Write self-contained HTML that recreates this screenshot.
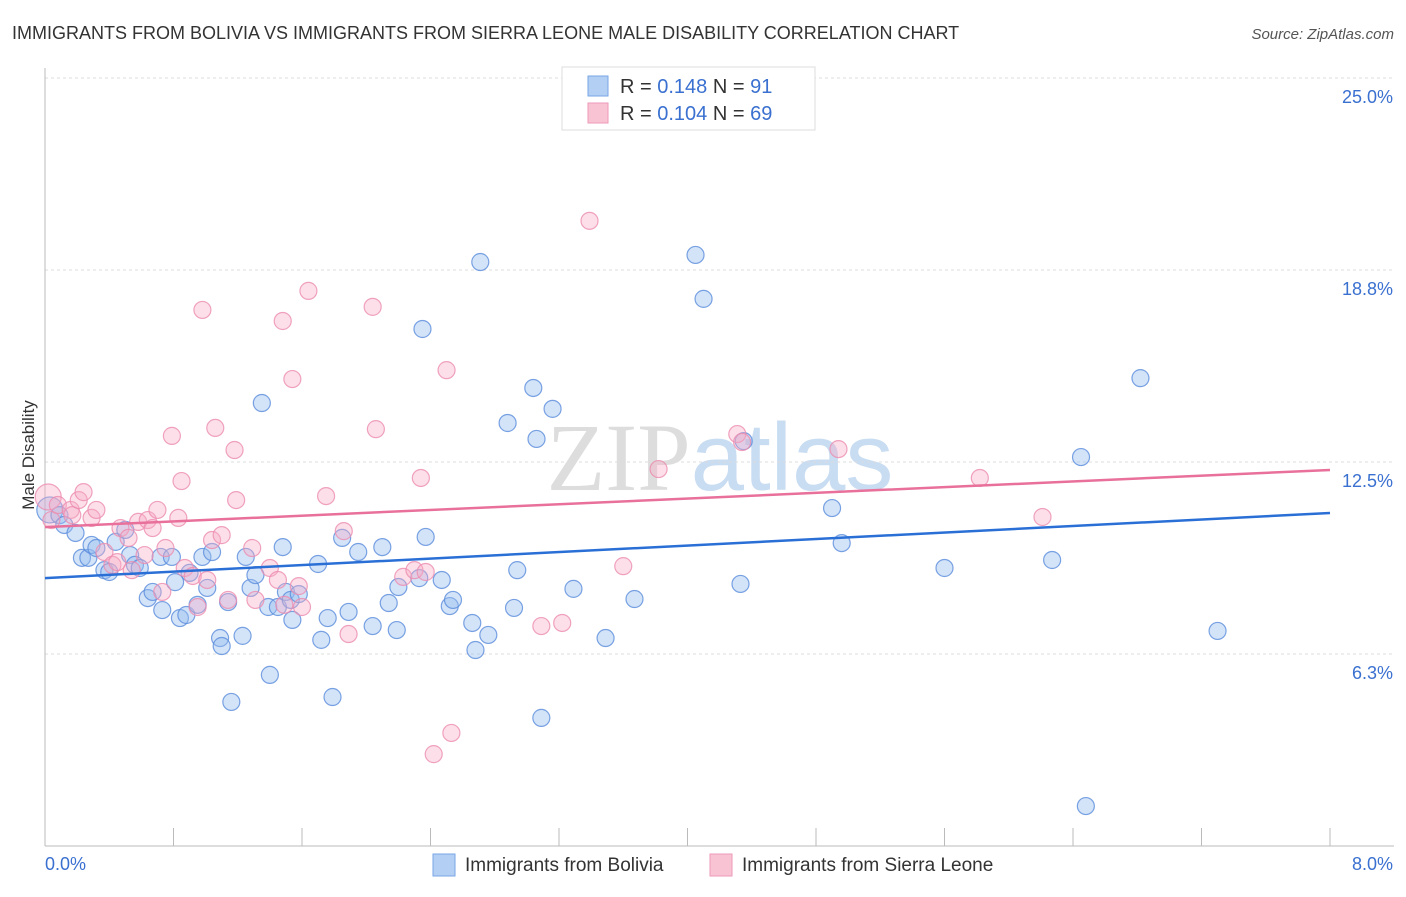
<!DOCTYPE html>
<html><head><meta charset="utf-8"><style>
body{margin:0;background:#fff;font-family:"Liberation Sans",sans-serif;}
svg text{font-family:"Liberation Sans",sans-serif;}
</style></head><body>
<svg id="chart" width="1406" height="892" xmlns="http://www.w3.org/2000/svg">
<text x="12" y="39" font-size="18" fill="#333">IMMIGRANTS FROM BOLIVIA VS IMMIGRANTS FROM SIERRA LEONE MALE DISABILITY CORRELATION CHART</text>
<text x="1394" y="39" font-size="15" fill="#555" text-anchor="end" font-style="italic">Source: ZipAtlas.com</text>
<text x="720" y="490" font-size="96" text-anchor="middle"><tspan fill="#ddd" font-family="Liberation Serif">ZIP</tspan><tspan fill="#c8dcf2" font-family="Liberation Sans">atlas</tspan></text>
<g id="grid"></g>
<g id="axes"></g>
<g id="pts"></g>
<g id="trend"></g>
<text transform="translate(34,455) rotate(-90)" font-size="17" fill="#333" text-anchor="middle">Male Disability</text>
<g>
<rect x="562" y="67" width="253" height="63" fill="#fff" stroke="#ddd"/>
<rect x="588" y="76" width="20" height="20" fill="#b4cff4" stroke="#7aa6e6"/>
<text x="620" y="93" font-size="20" fill="#333">R = <tspan fill="#3a70d0">0.148</tspan>   N = <tspan fill="#3a70d0"> 91</tspan></text>
<rect x="588" y="103" width="20" height="20" fill="#f8c4d4" stroke="#ee9ab8"/>
<text x="620" y="120" font-size="20" fill="#333">R = <tspan fill="#3a70d0">0.104</tspan>   N = <tspan fill="#3a70d0">69</tspan></text>
</g>
<g>
<rect x="433" y="854" width="22" height="22" fill="#b4cff4" stroke="#7aa6e6"/>
<text x="465" y="871" font-size="19" fill="#333">Immigrants from Bolivia</text>
<rect x="710" y="854" width="22" height="22" fill="#f8c4d4" stroke="#ee9ab8"/>
<text x="742" y="871" font-size="19" fill="#333">Immigrants from Sierra Leone</text>
</g>
</svg>
<script>
const yTicks=[25.0,18.75,12.5,6.25];
const yTickLabels=["25.0%","18.8%","12.5%","6.3%"];
const xTickCount=10;
const xMin=0,xMax=8,yMin=0,yMax=25;
const blueX=[0.03,0.09,0.12,0.19,0.23,0.27,0.29,0.32,0.37,0.40,0.44,0.50,0.53,0.56,0.59,0.64,0.67,0.73,0.72,0.79,0.81,0.84,0.88,0.90,0.95,0.98,1.01,1.04,1.09,1.10,1.14,1.16,1.23,1.25,1.28,1.31,1.35,1.39,1.40,1.45,1.48,1.50,1.53,1.54,1.58,1.70,1.72,1.76,1.79,1.85,1.89,1.95,2.04,2.10,2.14,2.19,2.20,2.33,2.35,2.37,2.47,2.52,2.54,2.66,2.68,2.71,2.76,2.88,2.92,2.94,3.04,3.06,3.09,3.16,3.29,3.49,3.67,4.05,4.10,4.33,4.35,4.90,4.96,5.60,6.27,6.45,6.48,6.82,7.30];
const blueY=[10.94,10.77,10.45,10.19,9.38,9.38,9.80,9.70,8.98,8.92,9.90,10.29,9.47,9.15,9.05,8.07,8.27,7.68,9.41,9.41,8.59,7.42,7.52,8.89,7.85,9.41,8.40,9.57,6.77,6.51,7.94,4.69,6.84,9.41,8.40,8.82,14.42,7.78,5.57,7.78,9.73,8.27,8.01,7.36,8.20,9.18,6.71,7.42,4.85,10.03,7.62,9.57,7.16,9.73,7.91,7.03,8.43,8.72,16.83,10.06,8.66,7.81,8.01,7.26,6.38,19.01,6.87,13.77,7.75,8.98,14.91,13.25,4.17,14.23,8.37,6.77,8.04,19.24,17.81,8.53,13.18,11.00,9.86,9.05,9.31,12.66,1.30,15.23,7.00];
const pinkX=[0.02,0.04,0.08,0.16,0.17,0.21,0.24,0.29,0.32,0.37,0.42,0.45,0.47,0.52,0.54,0.58,0.62,0.64,0.67,0.70,0.73,0.75,0.79,0.83,0.85,0.87,0.92,0.95,0.98,1.01,1.04,1.06,1.10,1.14,1.18,1.19,1.29,1.31,1.40,1.45,1.48,1.49,1.54,1.58,1.60,1.64,1.75,1.86,1.89,2.04,2.06,2.23,2.30,2.34,2.37,2.42,2.50,2.53,3.09,3.22,3.39,3.60,3.82,4.31,4.34,4.94,5.82,6.21];
const pinkY=[11.36,10.61,11.10,10.94,10.77,11.26,11.52,10.68,10.94,9.57,9.15,9.24,10.35,10.03,8.98,10.55,9.47,10.61,10.35,10.94,8.27,9.70,13.35,10.68,11.88,9.05,8.79,7.78,17.45,8.66,9.96,13.61,10.12,8.01,12.89,11.26,9.70,8.01,9.05,8.66,17.09,7.85,15.20,8.46,7.78,18.07,11.39,10.25,6.90,17.55,13.57,8.76,8.98,11.98,8.92,2.99,15.49,3.68,7.16,7.26,20.35,9.11,12.27,13.41,13.15,12.92,11.98,10.71];
const blueTrend=[8.72,10.84];
const pinkTrend=[10.38,12.24];
const L=45,R=1330,T=78,B=846;
const sx=v=>L+(v-xMin)/(xMax-xMin)*(R-L);
const sy=v=>B-(v-yMin)/(yMax-yMin)*(B-T);
const NS="http://www.w3.org/2000/svg";
function mk(tag,attrs,parent){const e=document.createElementNS(NS,tag);for(const k in attrs)e.setAttribute(k,attrs[k]);parent.appendChild(e);return e;}
const grid=document.getElementById('grid'),axes=document.getElementById('axes');
yTicks.forEach((t,i)=>{
 const g=mk('line',{x1:L,x2:1394,y1:sy(t),y2:sy(t),stroke:'#ddd','stroke-dasharray':'3,3'},grid);
 
 
 const tx=mk('text',{x:1393,y:sy(t)+25,'font-size':18,fill:'#3a70d0','text-anchor':'end'},axes);
 tx.textContent=yTickLabels[i];
 
 
});
const ya=mk('line',{x1:L,x2:L,y1:68,y2:B,stroke:'#bbb'},axes);


const xa=mk('line',{x1:L,x2:1394,y1:B,y2:B,stroke:'#bbb'},axes);


for(let i=1;i<=xTickCount;i++){
 const x=sx(xMin+(xMax-xMin)*i/xTickCount);
 const tk=mk('line',{x1:x,x2:x,y1:828,y2:B,stroke:'#bbb'},axes);
 
 
}
const x0=mk('text',{x:45,y:870,'font-size':18,fill:'#3a70d0'},axes);x0.textContent='0.0%';


const x1=mk('text',{x:1393,y:870,'font-size':18,fill:'#3a70d0','text-anchor':'end'},axes);x1.textContent='8.0%';


const pts=document.getElementById('pts');
function plot(xs,ys,fill,stroke,name){
 xs.forEach((v,i)=>{
  const c=mk('circle',{cx:sx(v),cy:sy(ys[i]),r:i===0?13:8.5,fill:fill,stroke:stroke,'stroke-width':1.2},pts);
  
  
 });
}
plot(blueX,blueY,'rgba(150,188,238,0.42)','rgba(90,140,220,0.8)','bolivia-point');
plot(pinkX,pinkY,'rgba(246,170,196,0.38)','rgba(236,140,175,0.8)','sierra-leone-point');
const tr=document.getElementById('trend');
const bl=mk('line',{x1:sx(xMin),y1:sy(blueTrend[0]),x2:sx(xMax),y2:sy(blueTrend[1]),stroke:'#2a6fd6','stroke-width':2.5},tr);


const pl=mk('line',{x1:sx(xMin),y1:sy(pinkTrend[0]),x2:sx(xMax),y2:sy(pinkTrend[1]),stroke:'#e8709a','stroke-width':2.5},tr);


</script>
</body></html>
